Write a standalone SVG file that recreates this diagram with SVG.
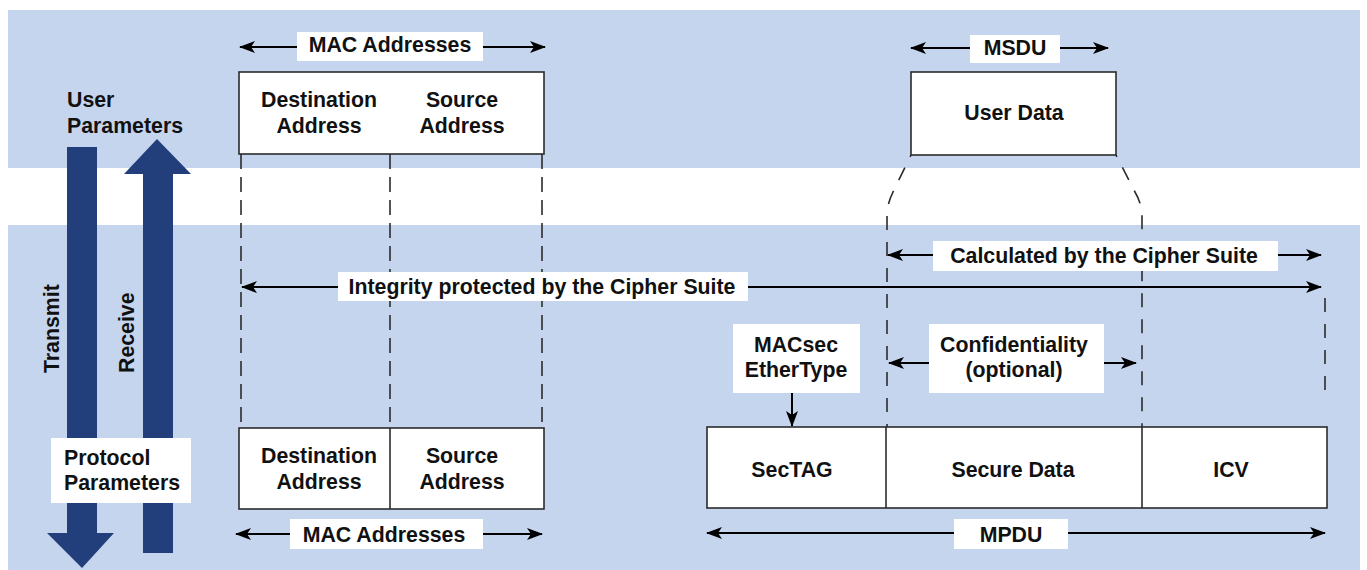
<svg xmlns="http://www.w3.org/2000/svg" width="1367" height="570" viewBox="0 0 1367 570">
  <style>
    .band { fill: #C6D5EE; }
    .box { fill: #FFFFFF; stroke: #2B2B2B; stroke-width: 1.6; }
    .div { stroke: #2B2B2B; stroke-width: 1.6; fill: none; }
    .lbl { fill: #FFFFFF; }
    .t { font-family: "Liberation Sans", Arial, sans-serif; font-weight: bold; font-size: 21.3px; fill: #111111; }
    .c { text-anchor: middle; }
    .dash { stroke: #2B2B2B; stroke-width: 1.6; fill: none; stroke-dasharray: 15 8; }
    .dash2 { stroke: #2B2B2B; stroke-width: 1.6; fill: none; stroke-dasharray: 14 12; }
    .dim { stroke: #000000; stroke-width: 2; fill: none; marker-start: url(#ah); marker-end: url(#ah); }
    .one { stroke: #000000; stroke-width: 2; fill: none; marker-end: url(#ah); }
    .big { fill: #223F7B; }
  </style>
  <defs>
    <marker id="ah" viewBox="0 0 16 12" refX="15" refY="6" markerWidth="16" markerHeight="12" markerUnits="userSpaceOnUse" orient="auto-start-reverse">
      <path d="M0,0 L16,6 L0,12 L4,6 Z" fill="#000000"/>
    </marker>
  </defs>

  <!-- background bands -->
  <rect class="band" x="8" y="10" width="1352" height="158"/>
  <rect class="band" x="8" y="225" width="1352" height="345"/>

  <!-- transmit / receive arrows -->
  <g id="transmit">
    <path class="big" d="M67,147 H97 V533 H114 L82,568 L47,533 H67 Z"/>
    <text class="t" transform="translate(59,373) rotate(-90)">Transmit</text>
  </g>
  <g id="receive">
    <path class="big" d="M143,553 H173 V174 H191 L157,139 L124,174 H143 Z"/>
    <text class="t" transform="translate(134,373) rotate(-90)">Receive</text>
  </g>
  <g id="user-params">
    <text class="t" x="67" y="107">User</text>
    <text class="t" x="67" y="133">Parameters</text>
  </g>
  <g id="protocol-params">
    <rect class="lbl" x="51" y="438" width="140" height="65"/>
    <text class="t" x="64" y="465">Protocol</text>
    <text class="t" x="64" y="490">Parameters</text>
  </g>

  <!-- connectors -->
  <g id="connectors">
    <!-- projection lines between frames -->
    <line class="dash" x1="241" y1="154" x2="241" y2="427"/>
    <line class="dash" x1="390" y1="154" x2="390" y2="427"/>
    <line class="dash" x1="542" y1="154" x2="542" y2="427"/>
    <path class="dash2" stroke-dashoffset="12" d="M911,155 L893,192 Q887,204 887,216 L887,427"/>
    <path class="dash2" stroke-dashoffset="12" d="M1116,155 L1135,192 Q1142,204 1142,216 L1142,427"/>
    <line class="dash2" x1="1325" y1="298" x2="1325" y2="402"/>

    <!-- extent arrows -->
    <line class="dim" x1="240" y1="47" x2="545" y2="47"/>
    <line class="dim" x1="911" y1="48" x2="1108" y2="48"/>
    <line class="dim" x1="888" y1="255" x2="1321" y2="255"/>
    <line class="dim" x1="242" y1="287" x2="1321" y2="287"/>
    <line class="dim" x1="889" y1="363" x2="1136" y2="363"/>
    <line class="dim" x1="236" y1="534" x2="542" y2="534"/>
    <line class="dim" x1="707" y1="533" x2="1325" y2="533"/>
    <line class="one" x1="792" y1="393" x2="792" y2="426"/>
  </g>

  <!-- arrow labels -->
  <g id="lbl-mac-top">
    <rect class="lbl" x="297" y="32" width="186" height="29"/>
    <text class="t c" x="390" y="52">MAC Addresses</text>
  </g>
  <g id="lbl-msdu">
    <rect class="lbl" x="970" y="35" width="90" height="28"/>
    <text class="t c" x="1015" y="55">MSDU</text>
  </g>
  <g id="lbl-calc">
    <rect class="lbl" x="933" y="241" width="345" height="30"/>
    <text class="t c" x="1104" y="263">Calculated by the Cipher Suite</text>
  </g>
  <g id="lbl-integrity">
    <rect class="lbl" x="338" y="272" width="410" height="29"/>
    <text class="t c" x="542" y="294">Integrity protected by the Cipher Suite</text>
  </g>
  <g id="lbl-ethertype">
    <rect class="lbl" x="733" y="324" width="127" height="69"/>
    <text class="t c" x="796" y="352">MACsec</text>
    <text class="t c" x="796" y="377">EtherType</text>
  </g>
  <g id="lbl-conf">
    <rect class="lbl" x="929" y="324" width="175" height="69"/>
    <text class="t c" x="1014" y="352">Confidentiality</text>
    <text class="t c" x="1014" y="377">(optional)</text>
  </g>
  <g id="lbl-mac-bottom">
    <rect class="lbl" x="290" y="519" width="193" height="30"/>
    <text class="t c" x="384" y="542">MAC Addresses</text>
  </g>
  <g id="lbl-mpdu">
    <rect class="lbl" x="954" y="519" width="114" height="30"/>
    <text class="t c" x="1011" y="542">MPDU</text>
  </g>

  <!-- upper frame: MAC addresses -->
  <g id="mac-top">
    <rect class="box" x="239" y="72" width="305" height="82"/>
    <text class="t c" x="319" y="107">Destination</text>
    <text class="t c" x="319" y="133">Address</text>
    <text class="t c" x="462" y="107">Source</text>
    <text class="t c" x="462" y="133">Address</text>
  </g>

  <!-- upper frame: user data -->
  <g id="user-data">
    <rect class="box" x="911" y="72" width="205" height="83"/>
    <text class="t c" x="1014" y="120">User Data</text>
  </g>

  <!-- lower frame: MAC addresses -->
  <g id="mac-bottom">
    <rect class="box" x="239" y="428" width="305" height="81"/>
    <line class="div" x1="390" y1="428" x2="390" y2="509"/>
    <text class="t c" x="319" y="463">Destination</text>
    <text class="t c" x="319" y="489">Address</text>
    <text class="t c" x="462" y="463">Source</text>
    <text class="t c" x="462" y="489">Address</text>
  </g>

  <!-- lower frame: MPDU fields -->
  <g id="mpdu">
    <rect class="box" x="707" y="427" width="620" height="81"/>
    <line class="div" x1="886" y1="427" x2="886" y2="508"/>
    <line class="div" x1="1142" y1="427" x2="1142" y2="508"/>
    <text class="t c" x="792" y="477">SecTAG</text>
    <text class="t c" x="1013" y="477">Secure Data</text>
    <text class="t c" x="1231" y="477">ICV</text>
  </g>
</svg>
